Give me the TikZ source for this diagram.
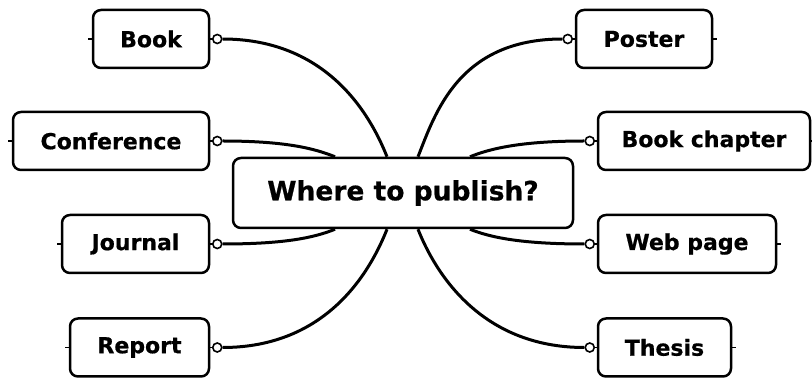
\documentclass[tikz,border=0pt]{standalone}
\usepackage{fontspec}
\setmainfont[BoldFeatures={FakeBold=0.6}]{DejaVu Sans}
\usetikzlibrary{backgrounds}
\begin{document}
\begin{tikzpicture}[x=1pt,y=-1pt,
  topic/.style={draw, line width=2.5pt, rounded corners=8pt, fill=white,
    inner sep=0pt, minimum height=58pt,
    font=\bfseries\fontsize{22}{26}\selectfont},
  hub/.style={topic, minimum height=70pt, minimum width=340pt,
    font=\bfseries\fontsize{26.5}{30}\selectfont},
  branch/.style={line width=3pt},
  knob/.style={draw, line width=1.6pt, fill=white, circle, inner sep=0pt,
    minimum size=9pt},
  stub/.style={line width=1.8pt}]
\useasboundingbox (0,0) rectangle (812,379);

% central topic
\node[hub] (hub) at (403,193) {Where to publish?};

% left-hand topics
\node[topic, minimum width=116pt] (book)  at (151,39)    {Book};
\node[topic, minimum width=196pt] (conf)  at (111,141)   {Conference};
\node[topic, minimum width=147pt] (jour)  at (135.5,244) {Journal};
\node[topic, minimum width=139pt] (rep)   at (139.5,347.5) {Report};

% right-hand topics
\node[topic, minimum width=136pt] (post)  at (644,39)    {Poster};
\node[topic, minimum width=212pt] (chap)  at (704,141)   {Book chapter};
\node[topic, minimum width=178pt] (web)   at (687,244)   {Web page};
\node[topic, minimum width=133pt] (thes)  at (664.5,347.5) {Thesis};

% attachment points on the hub edges
\coordinate (hBook) at ([xshift=-16pt]hub.north);
\coordinate (hPost) at ([xshift=15pt]hub.north);
\coordinate (hConf) at ([xshift=-68pt]hub.north);
\coordinate (hChap) at ([xshift=67pt]hub.north);
\coordinate (hJour) at ([xshift=-68pt]hub.south);
\coordinate (hRep)  at ([xshift=-16pt]hub.south);
\coordinate (hThes) at ([xshift=15pt]hub.south);
\coordinate (hWeb)  at ([xshift=67pt]hub.south);

% connector knobs beside each topic
\foreach \n in {book,conf,jour,rep}{
  \node[knob] (k\n) at ([xshift=7pt]\n.east) {};
  \draw[stub] (\n.east) -- (k\n.west);
  \draw[stub] (\n.west) -- ++(-4,0);
}
\foreach \n in {post,chap,web,thes}{
  \node[knob] (k\n) at ([xshift=-7pt]\n.west) {};
  \draw[stub] (\n.west) -- (k\n.east);
  \draw[stub] (\n.east) -- ++(4,0);
}

% branches from the hub to the topics
\begin{scope}[on background layer]
\draw[branch] (kbook.east) .. controls +(104,0) and +(-17,-43) .. (hBook);
\draw[branch] (kconf.east) .. controls +(64,0) and +(-20,-8) .. (hConf);
\draw[branch] (kjour.east) .. controls +(64,0) and +(-20,8) .. (hJour);
\draw[branch] (krep.east)  .. controls +(104,0) and +(-17,43) .. (hRep);
\draw[branch] (kpost.west) .. controls +(-104,0) and +(17,-43) .. (hPost);
\draw[branch] (kchap.west) .. controls +(-64,0) and +(20,-8) .. (hChap);
\draw[branch] (kweb.west)  .. controls +(-64,0) and +(20,8) .. (hWeb);
\draw[branch] (kthes.west) .. controls +(-104,0) and +(17,43) .. (hThes);
\end{scope}
\end{tikzpicture}
\end{document}
